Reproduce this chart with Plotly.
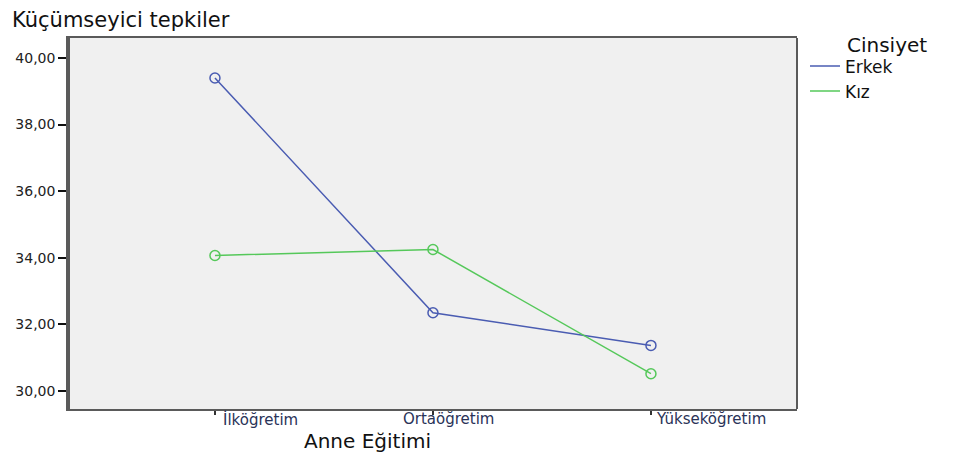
import plotly.graph_objects as go

categories = ["İlköğretim", "Ortaöğretim", "Yükseköğretim"]
erkek = [39.4, 32.35, 31.37]
kiz = [34.07, 34.25, 30.52]
ytick_vals = [30, 32, 34, 36, 38, 40]
ytick_text = ["30,00", "32,00", "34,00", "36,00", "38,00", "40,00"]
legend_title = "Cinsiyet"

BLUE = "#4a5cb2"
GREEN = "#55c85a"
FONT = "DejaVu Sans"
x_idx = list(range(len(categories)))
label_shift = [46, 16, 60]

fig = go.Figure()
for name, vals, col in [("Erkek", erkek, BLUE), ("Kız", kiz, GREEN)]:
    fig.add_trace(go.Scatter(
        x=x_idx, y=vals, mode="lines+markers", name=name,
        line=dict(color=col, width=1.5),
        marker=dict(symbol="circle-open", size=10, color=col, line=dict(width=1.5)),
        showlegend=False,
    ))
    fig.add_trace(go.Scatter(
        x=[None], y=[None], mode="lines", name=name,
        line=dict(color=col, width=1.5), showlegend=True,
    ))

annotations = [dict(text=c, xref="x", yref="paper", x=i, y=-10 / 371,
                    xanchor="center", yanchor="middle", xshift=s,
                    showarrow=False, font=dict(family=FONT, size=15, color="#2a3358"))
               for i, c, s in zip(x_idx, categories, label_shift)]
annotations.append(dict(text="Anne Eğitimi", xref="paper", yref="paper",
                        x=297 / 727, y=-32 / 371, xanchor="center", yanchor="middle",
                        showarrow=False, font=dict(family=FONT, size=20, color="#111111")))
annotations.append(dict(text=legend_title, xref="paper", yref="paper",
                        x=775 / 727, y=1 - 7 / 371, xanchor="left", yanchor="middle",
                        showarrow=False, font=dict(family=FONT, size=20, color="#111111")))

fig.update_layout(
    width=958, height=444,
    margin=dict(l=62, r=169, t=30, b=43, autoexpand=False),
    paper_bgcolor="white",
    plot_bgcolor="#f0f0f0",
    font=dict(family=FONT, color="#222222"),
    title=dict(text="Küçümseyici tepkiler", x=4 / 958, xanchor="left",
               y=1 - 12 / 444, yanchor="middle",
               font=dict(family=FONT, size=21, color="#111111")),
    showlegend=True,
    legend=dict(x=1.011, xanchor="left", y=0.972, yanchor="top",
                font=dict(family=FONT, size=17, color="#111111"),
                itemwidth=30, tracegroupgap=0, bgcolor="rgba(0,0,0,0)"),
    xaxis=dict(
        range=[-0.665, 2.67], tickvals=x_idx, showticklabels=False,
        ticks="outside", ticklen=4, tickwidth=2, tickcolor="#333333",
        showgrid=False, zeroline=False, automargin=False,
        showline=True, linecolor="#5a5a5a", linewidth=2, mirror=True,
    ),
    yaxis=dict(
        range=[29.46, 40.6], tickvals=ytick_vals, ticktext=ytick_text,
        ticks="outside", ticklen=8, tickwidth=2, tickcolor="#111111",
        tickfont=dict(family=FONT, size=14, color="#222222"),
        showgrid=False, zeroline=False, automargin=False,
        showline=True, linecolor="#5a5a5a", linewidth=3.5, mirror=False,
    ),
    shapes=[dict(type="line", xref="paper", yref="paper", x0=1, x1=1, y0=0, y1=1,
                 line=dict(color="#5a5a5a", width=2))],
    annotations=annotations,
)

fig.write_html("out.html")
